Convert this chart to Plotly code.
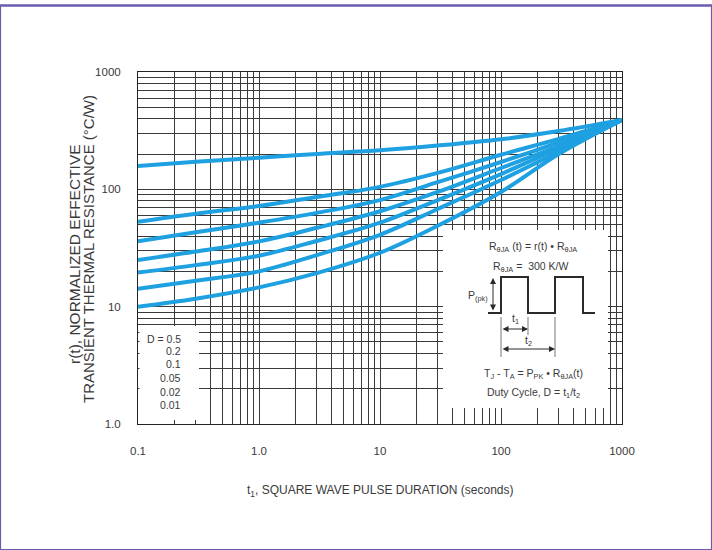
import plotly.graph_objects as go

# ---------------- data ----------------
t_s = [0.1, 0.3, 1, 3, 10, 30, 100, 300, 1000]
series_names = ["D = 0.5", "D = 0.2", "D = 0.1", "D = 0.05", "D = 0.02", "D = 0.01", "Single pulse"]
r_d05 = [158, 172, 186, 200, 215, 236, 267, 314, 390]
r_d02 = [53, 62, 72, 86, 105, 138, 197, 269, 390]
r_d01 = [36, 43, 52, 63, 81, 115, 171, 251, 390]
r_d005 = [25, 29.5, 36, 47, 65, 95, 152, 234, 390]
r_d002 = [19.5, 22.6, 27.2, 36.3, 52, 81, 135, 224, 390]
r_d001 = [14.2, 16.6, 20, 27.5, 41, 68, 120, 209, 390]
r_single = [10, 11.7, 14.6, 19.3, 28.8, 49, 95, 200, 390]
legend_labels = ["D = 0.5", "0.2", "0.1", "0.05", "0.02", "0.01"]
x_tickvals = [0.1, 1, 10, 100, 1000]
x_ticktext = ["0.1", "1.0", "10", "100", "1000"]
y_tickvals = [1, 10, 100, 1000]
y_ticktext = ["1.0", "10", "100", "1000"]

# ---------------- layout helpers ----------------
W_FIG, H_FIG = 712, 550
L, R, T, B = 138, 622, 72, 424
PW, PH = R - L, B - T


def px(x):
    return (x - L) / PW


def py(y):
    return (B - y) / PH


FONT = "Liberation Sans, Arial, Helvetica, sans-serif"
TXT = "#3a3a3a"
BLUE = "#1ea0e1"
GRID = "#3a3a3a"

fig = go.Figure()
all_series = [r_d05, r_d02, r_d01, r_d005, r_d002, r_d001, r_single]
for name, vals in zip(series_names, all_series):
    fig.add_trace(go.Scatter(x=t_s, y=vals, mode="lines", name=name,
                             line=dict(color=BLUE, width=4, shape="spline", smoothing=1.0),
                             showlegend=False))

shapes = []
annotations = []

# white boxes over grid
shapes.append(dict(type="rect", xref="paper", yref="paper", x0=px(139.5), x1=px(199),
                   y0=py(420), y1=py(326), fillcolor="white", line=dict(width=0), layer="above"))
shapes.append(dict(type="rect", xref="paper", yref="paper", x0=px(443), x1=px(608),
                   y0=py(408), y1=py(230), fillcolor="white", line=dict(width=0), layer="above"))

# square wave
wave = [(488, 313), (501, 313), (501, 277), (528, 277), (528, 313), (555, 313),
        (555, 277), (583, 277), (583, 313), (595, 313)]
path = "M " + " L ".join(f"{px(a):.5f},{py(b):.5f}" for a, b in wave)
shapes.append(dict(type="path", xref="paper", yref="paper", path=path,
                   line=dict(color="#2a2a2a", width=2), layer="above"))
for xx, y0, y1 in [(501, 317, 357), (528, 317, 335), (555, 317, 357)]:
    shapes.append(dict(type="line", xref="paper", yref="paper", x0=px(xx), x1=px(xx),
                       y0=py(y0), y1=py(y1), line=dict(color="#555", width=0.8), layer="above"))

# purple page border
shapes.append(dict(type="rect", xref="paper", yref="paper", x0=px(0.5), x1=px(711.5),
                   y0=py(549.5), y1=py(5.5), line=dict(color="#6c5bb0", width=1.2), layer="above"))
shapes.append(dict(type="line", xref="paper", yref="paper", x0=px(0), x1=px(712),
                   y0=py(5.5), y1=py(5.5), line=dict(color="#6c5bb0", width=2.5), layer="above"))


# arrows
def darrow(x_head, y_head, x_tail, y_tail):
    annotations.append(dict(xref="paper", yref="paper", x=px(x_head), y=py(y_head),
                            ax=x_tail - x_head, ay=y_tail - y_head, text="",
                            showarrow=True, arrowhead=2, arrowside="end+start",
                            arrowsize=1.2, arrowwidth=1, arrowcolor="#2a2a2a"))


darrow(493, 278, 493, 312)
darrow(528, 329, 501, 329)
darrow(555, 349, 501, 349)


def txt(x, y, s, size=10.5, xanchor="center"):
    annotations.append(dict(xref="paper", yref="paper", x=px(x), y=py(y), text=s,
                            showarrow=False, xanchor=xanchor, yanchor="middle",
                            font=dict(family=FONT, size=size, color=TXT)))


txt(533, 247, "R<sub>θJA</sub> (t) = r(t) • R<sub>θJA</sub>")
txt(530, 267, "R<sub>θJA</sub> =  300 K/W")
txt(490, 296, "P<sub>(pk)</sub>", xanchor="right")
txt(515, 319, "t<sub>1</sub>")
txt(528, 341, "t<sub>2</sub>")
txt(533, 374, "T<sub>J</sub> - T<sub>A</sub> = P<sub>PK</sub> • R<sub>θJA</sub>(t)")
txt(533, 393, "Duty Cycle, D = t<sub>1</sub>/t<sub>2</sub>")

# duty-cycle legend text
for lab, yy in zip(legend_labels, [339, 351, 364, 378, 392, 405]):
    txt(183, yy, lab, size=10.5, xanchor="right")

# axis titles
annotations.append(dict(xref="paper", yref="paper", x=px(380), y=py(491),
                        text="t<sub>1</sub>, SQUARE WAVE PULSE DURATION (seconds)",
                        showarrow=False, xanchor="center", yanchor="middle",
                        font=dict(family=FONT, size=12, color=TXT)))
annotations.append(dict(xref="paper", yref="paper", x=px(74), y=py(254),
                        text="r(t), NORMALIZED EFFECTIVE", textangle=-90,
                        showarrow=False, xanchor="center", yanchor="middle",
                        font=dict(family=FONT, size=15.5, color=TXT)))
annotations.append(dict(xref="paper", yref="paper", x=px(88), y=py(249),
                        text="TRANSIENT THERMAL RESISTANCE (°C/W)", textangle=-90,
                        showarrow=False, xanchor="center", yanchor="middle",
                        font=dict(family=FONT, size=15, color=TXT)))

fig.update_layout(
    width=W_FIG, height=H_FIG,
    margin=dict(l=L, r=W_FIG - R, t=T, b=H_FIG - B, autoexpand=False),
    paper_bgcolor="white", plot_bgcolor="white",
    font=dict(family=FONT, color=TXT),
    shapes=shapes, annotations=annotations,
    xaxis=dict(type="log", range=[-1, 3], tickvals=x_tickvals, ticktext=x_ticktext,
               showgrid=True, gridcolor=GRID, gridwidth=1,
               minor=dict(showgrid=True, gridcolor=GRID, gridwidth=1, dtick="D1", ticks=""),
               showline=True, linecolor="#222", linewidth=1, mirror=True,
               ticks="", ticklabelstandoff=16, tickfont=dict(size=11.5, color=TXT, family=FONT),
               zeroline=False),
    yaxis=dict(type="log", range=[0, 3], tickvals=y_tickvals, ticktext=y_ticktext,
               showgrid=True, gridcolor=GRID, gridwidth=1,
               minor=dict(showgrid=True, gridcolor=GRID, gridwidth=1, dtick="D1", ticks=""),
               showline=True, linecolor="#222", linewidth=1, mirror=True,
               ticks="", ticklabelstandoff=14, tickfont=dict(size=11.5, color=TXT, family=FONT),
               zeroline=False),
)

fig.write_html("out.html")
